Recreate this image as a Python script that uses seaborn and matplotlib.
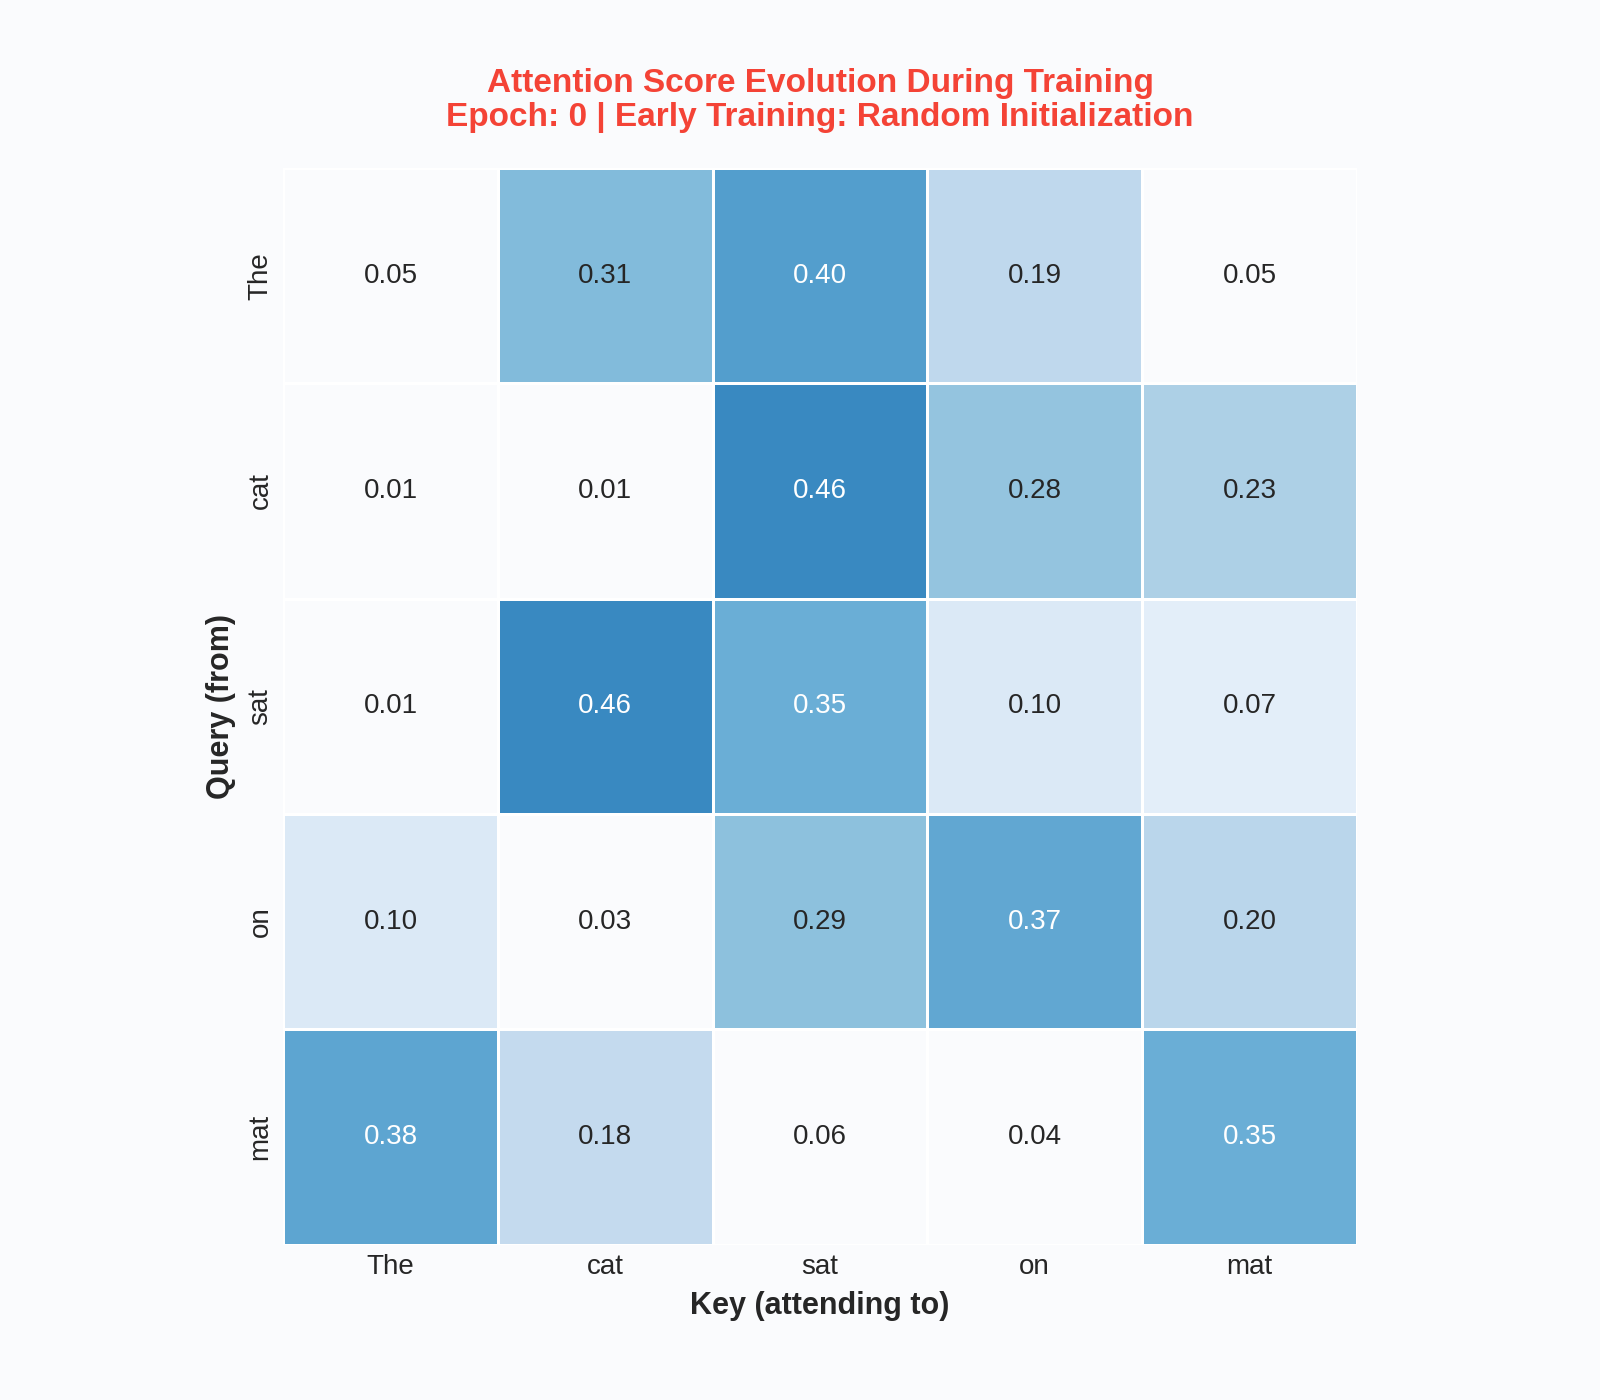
import numpy as np
import pandas as pd
import matplotlib
matplotlib.use("Agg")
import matplotlib.pyplot as plt
import seaborn as sns

tokens = ["The", "cat", "sat", "on", "mat"]
row_the = [0.05, 0.31, 0.40, 0.19, 0.05]
row_cat = [0.01, 0.01, 0.46, 0.28, 0.23]
row_sat = [0.01, 0.46, 0.35, 0.10, 0.07]
row_on = [0.10, 0.03, 0.29, 0.37, 0.20]
row_mat = [0.38, 0.18, 0.06, 0.04, 0.35]

epoch = 0
phase = "Early Training: Random Initialization"

bg = "#fafbfd"
vmax = 0.7
cutoff = 0.065  # weaker scores are masked out

sns.set_theme(style="whitegrid")
plt.rcParams['font.family'] = ['Liberation Sans', 'DejaVu Sans']

attn = pd.DataFrame([row_the, row_cat, row_sat, row_on, row_mat],
                    index=tokens, columns=tokens)
mask = attn < cutoff

fig = plt.figure(figsize=(8, 7), dpi=200, facecolor=bg)
ax = fig.add_axes([0.177, 0.111, 0.671, 0.769])
ax.set_facecolor(bg)

sns.heatmap(attn, ax=ax, mask=mask, cmap="Blues", vmin=0, vmax=vmax, annot=True, fmt=".2f",
            annot_kws={"size": 10}, linewidths=1, linecolor="white", cbar=False)

# seaborn skips the labels of masked cells, so put them back
for i, q in enumerate(tokens):
    for j, k in enumerate(tokens):
        if mask.loc[q, k]:
            ax.text(j + 0.5, i + 0.5, f"{attn.loc[q, k]:.2f}", ha="center", va="center",
                    fontsize=10, color=".15")

ax.grid(False)
ax.tick_params(length=0, labelsize=10)
ax.set_xlabel("Key (attending to)", fontsize=11, fontweight="bold")
ax.set_ylabel("Query (from)", fontsize=11, fontweight="bold")
ax.set_title(f"Attention Score Evolution During Training\nEpoch: {epoch} | {phase}",
             fontsize=12, fontweight="bold", color="#f44336", pad=15, linespacing=1.15)

fig.savefig("out.png", dpi=200, facecolor=bg)
plt.close()
